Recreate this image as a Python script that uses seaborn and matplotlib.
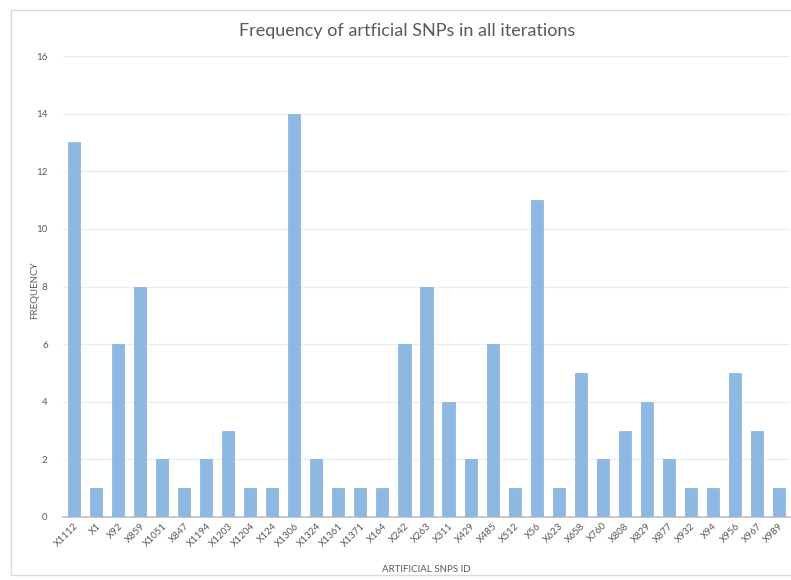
import matplotlib
matplotlib.use("Agg")
import matplotlib.pyplot as plt
import seaborn as sns
import pandas as pd
from matplotlib.patches import Rectangle

snp_ids = ["X1112", "X1", "X92", "X859", "X1051", "X847", "X1194", "X1203", "X1204",
           "X124", "X1306", "X1324", "X1361", "X1371", "X164", "X242", "X263", "X311",
           "X429", "X485", "X512", "X56", "X623", "X658", "X760", "X808", "X829",
           "X877", "X932", "X94", "X956", "X967", "X989"]
frequency = [13, 1, 6, 8, 2, 1, 2, 3, 1, 1, 14, 2, 1, 1, 1, 6, 8, 4, 2, 6, 1, 11,
             1, 5, 2, 3, 4, 2, 1, 1, 5, 3, 1]
y_ticks = [0, 2, 4, 6, 8, 10, 12, 14, 16]

df = pd.DataFrame({"snp": snp_ids, "freq": frequency})

sns.set_theme(style="white")
plt.rcParams["font.family"] = ["Lato", "DejaVu Sans"]

text_col = "#595959"
fig = plt.figure(figsize=(7.91, 5.80), dpi=100)
fig.patches.append(Rectangle((11 / 791, 5 / 580), 1.0, 565 / 580, transform=fig.transFigure,
                             fill=False, edgecolor="#d9d9d9", linewidth=1.0))
ax = fig.add_axes([63 / 791, 1 - 517 / 580, (790 - 63) / 791, (517 - 56) / 580])

sns.barplot(data=df, x="snp", y="freq", ax=ax, color="#8db8e2", width=0.55,
            edgecolor="#82afdc", linewidth=0.5, saturation=1.0, zorder=3)

ax.set_ylim(0, 16)
ax.set_yticks(y_ticks)
ax.set_xlim(-0.5, len(snp_ids) - 0.5)
ax.yaxis.grid(True, color="#ececec", linewidth=0.8, zorder=0)
for s in ["top", "right", "left"]:
    ax.spines[s].set_visible(False)
ax.spines["bottom"].set_color("#bfbfbf")
ax.spines["bottom"].set_linewidth(1.2)

ax.tick_params(axis="y", length=0, labelsize=7, labelcolor=text_col, pad=11)
ax.tick_params(axis="x", length=0, labelsize=7, labelcolor=text_col, pad=3)
plt.setp(ax.get_xticklabels(), rotation=45, ha="right", rotation_mode="anchor")

ax.set_xlabel("ARTIFICIAL SNPS ID", fontsize=7, color=text_col, labelpad=12)
ax.set_ylabel("FREQUENCY", fontsize=7, color=text_col)
ax.yaxis.set_label_coords((39 - 63) / 727, (517 - 290) / 461)
fig.text(407 / 791, 1 - 31 / 580, "Frequency of artficial SNPs in all iterations",
         ha="center", va="center", fontsize=13, color=text_col)

fig.savefig("out.png", dpi=100)
